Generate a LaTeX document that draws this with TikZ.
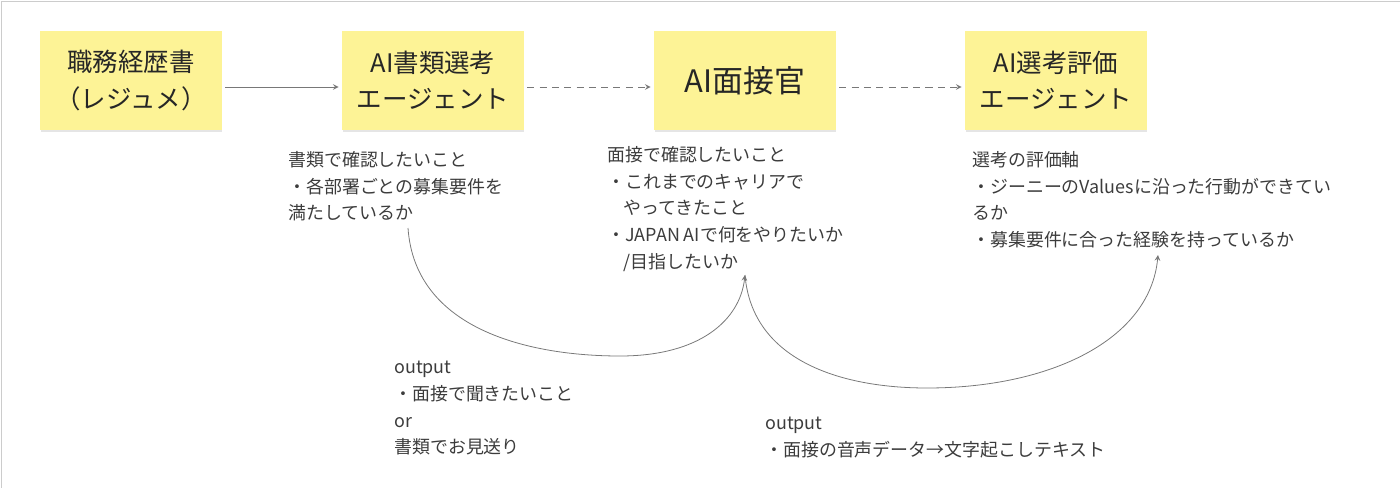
\documentclass[tikz,border=0pt]{standalone}
\usepackage{fontspec}
\setmainfont{Noto Sans CJK JP}
\usepackage{tikz}

\definecolor{sticky}{RGB}{253,243,150}
\definecolor{inkgray}{RGB}{60,60,60}
\definecolor{linegray}{RGB}{120,120,120}

\begin{document}
\begin{tikzpicture}[
    note/.style={fill=sticky, minimum width=3.64cm, minimum height=1.98cm, align=center,
        text=black!85, font=\fontsize{14.5}{20.5}\selectfont},
    memo/.style={anchor=north west, inner sep=0pt, align=left, text=inkgray,
        font=\fontsize{10.2}{15.2}\selectfont},
    flow/.style={->, >=stealth, linegray, line width=0.45pt},
    hop/.style={dash pattern=on 4pt off 3pt},
]
    \useasboundingbox (0,0) rectangle (28,-9.76);
    \draw[black!20] (0.02,-9.76) -- (0.02,-0.02) -- (28,-0.02);

    % Sticky notes
    \foreach \cx in {2.62, 8.66, 14.9, 21.12}
        \fill[black!10] (\cx-1.8, -0.64) rectangle (\cx+1.82, -2.64);
    \node[note] (resume) at (2.62,-1.61) {職務経歴書\\（レジュメ）};
    \node[note] (screen) at (8.66,-1.61) {AI書類選考\\エージェント};
    \node[note, font=\fontsize{17.6}{20}\selectfont] (interview) at (14.9,-1.61) {AI面接官};
    \node[note] (evaluate) at (21.12,-1.61) {AI選考評価\\エージェント};

    % Flow between the notes
    \draw[flow] ([xshift=0.06cm, yshift=-0.13cm]resume.east) -- ([xshift=-0.06cm, yshift=-0.13cm]screen.west);
    \draw[flow, hop] ([xshift=0.06cm, yshift=-0.13cm]screen.east) -- ([xshift=-0.06cm, yshift=-0.13cm]interview.west);
    \draw[flow, hop] ([xshift=0.06cm, yshift=-0.13cm]interview.east) -- ([xshift=-0.06cm, yshift=-0.13cm]evaluate.west);

    % Memos under the notes
    \node[memo] (screennote) at (5.76,-3.02) {書類で確認したいこと\\・各部署ごとの募集要件を\\満たしているか};
    \node[memo] (interviewnote) at (12.14,-2.92) {面接で確認したいこと\\・これまでのキャリアで\\\hspace*{0.9em}やってきたこと\\・JAPAN AIで何をやりたいか\\\hspace*{0.9em}/目指したいか};
    \node[memo] (evalnote) at (19.44,-3.02) {選考の評価軸\\・ジーニーのValuesに沿った行動ができてい\\るか\\・募集要件に合った経験を持っているか};

    % Outputs
    \node[memo] (out1) at (7.88,-7.22) {output\\・面接で聞きたいこと\\or\\書類でお見送り};
    \node[memo] (out2) at (15.3,-8.34) {output\\・面接の音声データ→文字起こしテキスト};

    % Curved links
    \coordinate (c1s) at (8.16,-4.56);
    \coordinate (c1e) at (14.9,-5.5);
    \coordinate (c2e) at (23.16,-5.1);
    \draw[flow] (c1s) .. controls (8.3,-6.6) and (10.6,-7.12) .. (12.4,-7.12)
        .. controls (14.0,-7.12) and (14.8,-6.4) .. (c1e);
    \draw[flow] (c1e) .. controls (15.04,-7.2) and (16.8,-7.76) .. (18.54,-7.76)
        .. controls (21.0,-7.76) and (23.0,-6.8) .. (c2e);
\end{tikzpicture}
\end{document}
